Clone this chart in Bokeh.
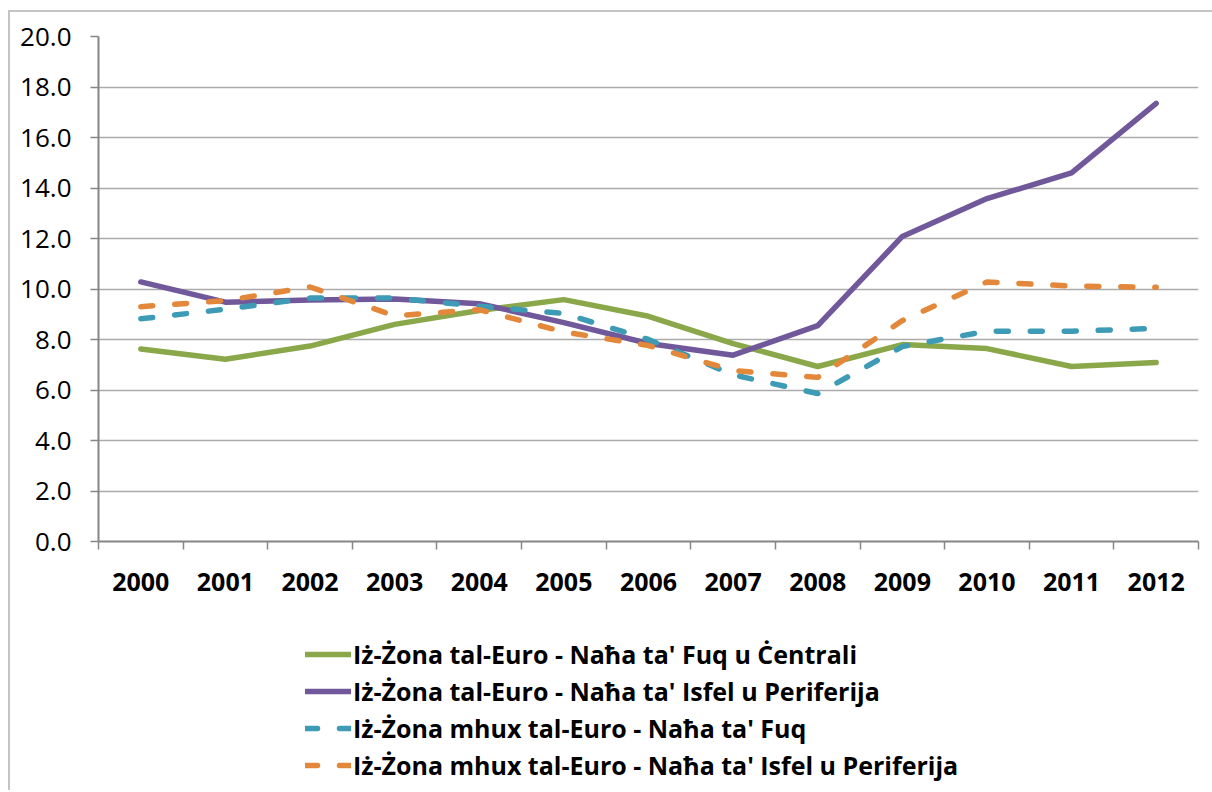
from bokeh.plotting import figure
from bokeh.layouts import column
from bokeh.models import (FactorRange, Range1d, LinearAxis, CategoricalAxis,
                          FixedTicker, Legend, LegendItem, NumeralTickFormatter,
                          CustomJSTickFormatter)
from bokeh.embed import file_html
from bokeh.resources import INLINE

years = ["2000", "2001", "2002", "2003", "2004", "2005", "2006",
         "2007", "2008", "2009", "2010", "2011", "2012"]

euro_north_central = [7.62, 7.22, 7.74, 8.6, 9.15, 9.58, 8.92, 7.84, 6.93, 7.8, 7.64, 6.93, 7.09]
euro_south_periphery = [10.28, 9.48, 9.56, 9.6, 9.42, 8.67, 7.84, 7.38, 8.55, 12.08, 13.58, 14.6, 17.35]
noneuro_north = [8.82, 9.2, 9.64, 9.64, 9.32, 9.03, 8.0, 6.6, 5.86, 7.72, 8.33, 8.33, 8.44]
noneuro_south_periphery = [9.3, 9.54, 10.08, 8.94, 9.18, 8.3, 7.76, 6.77, 6.5, 8.75, 10.28, 10.12, 10.07]

labels = ["Iż-Żona tal-Euro - Naħa ta' Fuq u Ċentrali",
          "Iż-Żona tal-Euro - Naħa ta' Isfel u Periferija",
          "Iż-Żona mhux tal-Euro - Naħa ta' Fuq",
          "Iż-Żona mhux tal-Euro - Naħa ta' Isfel u Periferija"]
colors = ["#8AA84A", "#70589A", "#3E9BB6", "#E3883A"]
dashes = ["solid", "solid", "12 22", "12 22"]
series = [euro_north_central, euro_south_periphery, noneuro_north, noneuro_south_periphery]

FONT = "Open Sans"
AXIS_GRAY = "#868686"

p = figure(x_range=FactorRange(factors=years, range_padding=0),
           y_range=Range1d(0, 20),
           width=1202, height=600,
           output_backend="svg", toolbar_location=None,
           x_axis_location=None, y_axis_location="left",
           min_border_left=88, min_border_right=14,
           min_border_top=24, min_border_bottom=71)
p.outline_line_color = None

# y axis
yax = p.yaxis[0]
yax.ticker = FixedTicker(ticks=list(range(0, 21, 2)))
yax.formatter = NumeralTickFormatter(format="0.0")
yax.axis_line_color = AXIS_GRAY
yax.axis_line_width = 2
yax.major_tick_line_color = AXIS_GRAY
yax.major_tick_line_width = 1.5
yax.major_tick_out = 8
yax.major_tick_in = 0
yax.minor_tick_line_color = None
yax.major_label_text_font = FONT
yax.major_label_text_font_size = "26px"
yax.major_label_text_color = "#000000"
yax.major_label_standoff = 19

p.ygrid.ticker = FixedTicker(ticks=list(range(0, 21, 2)))
p.ygrid.grid_line_color = "#ababab"
p.ygrid.grid_line_width = 1.5
p.xgrid.grid_line_color = None

# tick marks at category boundaries (synthetic coordinates 0..n)
tick_axis = LinearAxis(ticker=FixedTicker(ticks=list(range(len(years) + 1))),
                       formatter=CustomJSTickFormatter(code="return ''"),
                       major_label_standoff=0,
                       axis_line_color=AXIS_GRAY, axis_line_width=2,
                       major_tick_line_color=AXIS_GRAY, major_tick_line_width=1.5,
                       major_tick_out=8, major_tick_in=0,
                       minor_tick_line_color=None)
p.add_layout(tick_axis, "below")

cat_axis = CategoricalAxis(axis_line_color=None, major_tick_line_color=None,
                           minor_tick_line_color=None,
                           major_label_text_font=FONT,
                           major_label_text_font_style="bold",
                           major_label_text_font_size="25px",
                           major_label_text_color="#000000",
                           major_label_standoff=17)
p.add_layout(cat_axis, "below")

for vals, col, dash in zip(series, colors, dashes):
    p.line(years, vals, line_color=col, line_width=5.5, line_dash=dash,
           line_cap="round", line_join="round")

# legend panel below the chart
leg = figure(x_range=FactorRange(factors=years, range_padding=0),
             y_range=Range1d(0, 20),
             width=1202, height=178,
             output_backend="svg", toolbar_location=None,
             x_axis_location=None, y_axis_location=None,
             min_border=0)
leg.outline_line_color = None
leg.grid.grid_line_color = None

items = []
for vals, lab, col, dash in zip(series, labels, colors, dashes):
    r = leg.line(years, vals, line_color=col, line_width=5.5, line_dash=dash,
                 line_cap="round", line_join="round", visible=False)
    items.append(LegendItem(label=lab, renderers=[r]))

legend = Legend(items=items, location=(207, 8), orientation="vertical",
                border_line_color=None, background_fill_alpha=0,
                inactive_fill_alpha=0,
                padding=0, margin=0, spacing=3,
                label_height=20, glyph_height=20, glyph_width=46,
                label_standoff=2,
                label_text_font=FONT, label_text_font_style="bold",
                label_text_font_size="25px", label_text_color="#000000")
leg.add_layout(legend, "center")

page = column(p, leg, spacing=0)
page.styles = {"border-top": "2px solid #c4c4c4", "border-left": "2px solid #c4c4c4",
               "margin-top": "10px", "margin-left": "8px"}

open("out.html", "w").write(file_html(page, INLINE))
